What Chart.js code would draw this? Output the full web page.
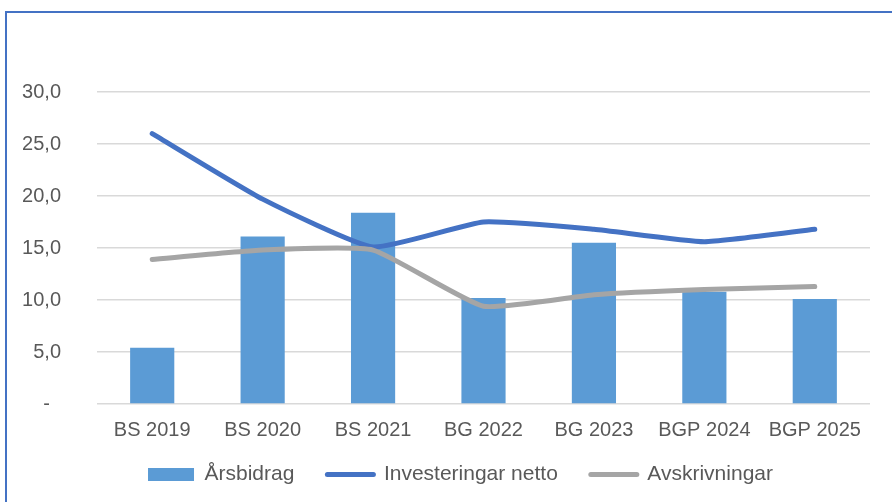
<!DOCTYPE html>
<html>
<head>
<meta charset="utf-8">
<script src="https://cdn.jsdelivr.net/npm/chart.js@4.4.0/dist/chart.umd.min.js"></script>
<style>
  html, body { margin: 0; padding: 0; background: #fff; }
  #wrap { position: relative; width: 892px; height: 502px; }
</style>
</head>
<body>
<div id="wrap"><canvas id="myChart" width="892" height="502"></canvas></div>
<script>
/* eslint-disable no-undef */

const categories = ['BS 2019', 'BS 2020', 'BS 2021', 'BG 2022', 'BG 2023', 'BGP 2024', 'BGP 2025'];
const arsbidrag = [5.4, 16.1, 18.4, 10.2, 15.5, 10.8, 10.1];
const investeringarNetto = [26.0, 19.7, 15.1, 17.5, 16.8, 15.6, 16.8];
const avskrivningar = [13.9, 14.8, 14.8, 9.4, 10.5, 11.0, 11.3];
const yTicks = [0, 5, 10, 15, 20, 25, 30];

{
  'use strict';

  const FONT = "'Liberation Sans', Arial, sans-serif";
  const TEXT = '#595959';

  /* frame line top and left, like the cropped excel border */
  const framePlugin = {
    id: 'frame',
    beforeDraw(chart) {
      const ctx = chart.ctx;
      ctx.save();
      ctx.fillStyle = '#fff';
      ctx.fillRect(0, 0, chart.width, chart.height);
      ctx.strokeStyle = '#4472C4';
      ctx.lineWidth = 2;
      ctx.beginPath();
      ctx.moveTo(6, chart.height);
      ctx.lineTo(6, 12);
      ctx.lineTo(chart.width, 12);
      ctx.stroke();
      ctx.restore();
    }
  };

  /* axes are squeezed on purpose, widen them again so labels are not clipped */
  const unclipPlugin = {
    id: 'unclip',
    afterLayout(chart) {
      chart.scales.y.left = 0;
      chart.scales.x.bottom = chart.height;
    }
  };

  function fmt(v) {
    if (v === 0) return '-  ';
    return v.toFixed(1).replace('.', ',');
  }

  /* Chart */
  const ctx = document.getElementById('myChart').getContext('2d');

  new Chart(ctx, {
    type: 'bar',
    data: {
      labels: categories,
      datasets: [{
        label: 'Årsbidrag',
        data: arsbidrag,
        backgroundColor: '#5B9BD5',
        borderWidth: 0,
        barPercentage: 0.4,
        categoryPercentage: 1,
        order: 2,
      },
      {
        type: 'line',
        label: 'Investeringar netto',
        data: investeringarNetto,
        borderColor: '#4472C4',
        backgroundColor: '#4472C4',
        borderWidth: 5,
        borderCapStyle: 'round',
        borderJoinStyle: 'round',
        tension: 0.15,
        pointRadius: 0,
        order: 1,
      },
      {
        type: 'line',
        label: 'Avskrivningar',
        data: avskrivningar,
        borderColor: '#A5A5A5',
        backgroundColor: '#A5A5A5',
        borderWidth: 5,
        borderCapStyle: 'round',
        borderJoinStyle: 'round',
        tension: 0.15,
        pointRadius: 0,
        order: 0,
      }]
    },
    options: {
      responsive: false,
      devicePixelRatio: 1,
      animation: false,
      layout: {
        padding: { left: 36, right: 7, top: 92, bottom: 7 }
      },
      scales: {
        x: {
          grid: { display: false, drawTicks: false },
          border: { display: false },
          ticks: {
            color: TEXT,
            font: { family: FONT, size: 20 },
            padding: 14,
            maxRotation: 0,
            autoSkip: false
          },
          afterFit(axis) {
            axis.height = 27;
          }
        },
        y: {
          min: 0,
          max: 30,
          afterBuildTicks(axis) {
            axis.ticks = yTicks.map(v => ({ value: v }));
          },
          afterFit(axis) {
            axis.width = 61;
          },
          grid: { color: '#D9D9D9', lineWidth: 1.5, drawTicks: false },
          border: { display: false },
          ticks: {
            color: TEXT,
            font: { family: FONT, size: 20 },
            padding: 36,
            callback: v => fmt(v)
          }
        },
        // empty space on the right so the legend sits where excel put it
        spacer: {
          position: 'right',
          grid: { display: false, drawTicks: false },
          border: { display: false },
          ticks: { display: false },
          afterFit(axis) {
            axis.width = 15;
          }
        }
      },
      plugins: {
        tooltip: { enabled: false },
        legend: {
          position: 'bottom',
          labels: {
            color: TEXT,
            font: { family: FONT, size: 21 },
            usePointStyle: true,
            pointStyleWidth: 46,
            boxHeight: 13,
            padding: 33,
            sort: (a, b) => a.datasetIndex - b.datasetIndex,
            generateLabels(chart) {
              const items = Chart.defaults.plugins.legend.labels.generateLabels(chart);
              items.forEach(item => {
                const ds = chart.data.datasets[item.datasetIndex];
                if (ds.type === 'line') {
                  item.pointStyle = 'line';
                  item.lineWidth = 5;
                  item.lineCap = 'round';
                  item.strokeStyle = ds.borderColor;
                } else {
                  item.pointStyle = 'rect';
                  item.lineWidth = 0;
                }
              });
              return items;
            }
          }
        }
      }
    },
    plugins: [framePlugin, unclipPlugin]
  });
}
</script>
</body>
</html>
